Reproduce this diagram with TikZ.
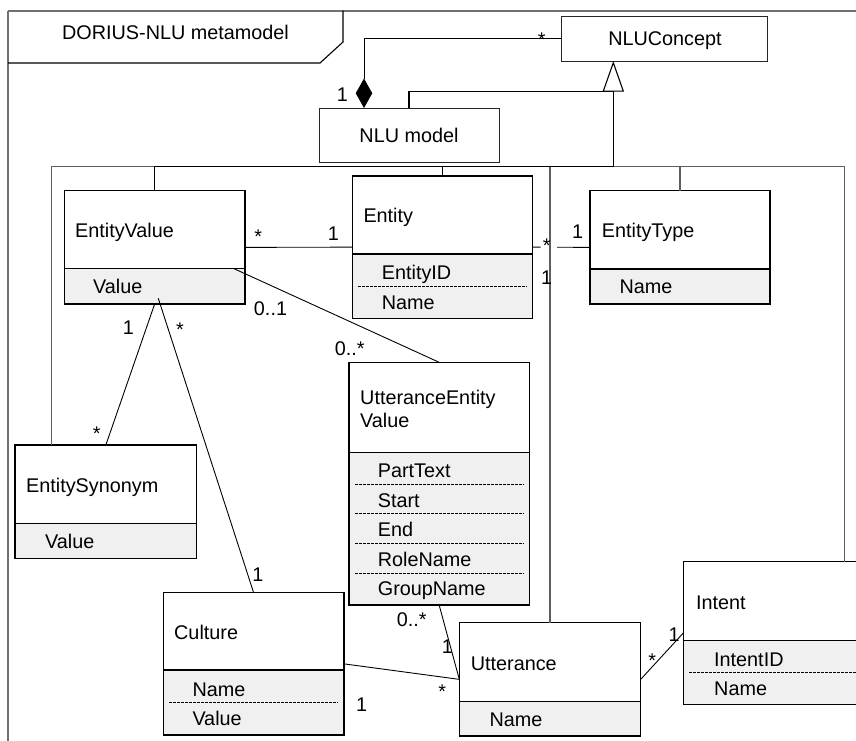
\documentclass[tikz,border=0pt]{standalone}
\usepackage{fontspec}
\setmainfont{Liberation Sans}
\usetikzlibrary{arrows.meta,calc}

\definecolor{attrbg}{HTML}{F0F0F0}
\definecolor{framegray}{HTML}{707070}
\definecolor{linkgray}{HTML}{5E5E5E}

\tikzset{
  lbl/.style={inner sep=0pt, anchor=base west, font=\fontsize{19.8}{23.3}\selectfont},
  clbl/.style={lbl, anchor=base},
  mult/.style={inner sep=0pt, anchor=base, font=\fontsize{19.8}{23.3}\selectfont},
  clsframe/.style={draw=black, line width=1.3pt, inner sep=0pt, outer sep=0pt, anchor=north west},
  plainbox/.style={draw=black!85, line width=1pt, inner sep=0pt, outer sep=0pt, anchor=north west},
  assoc/.style={draw=black, line width=0.9pt},
  attrdot/.style={draw=black, line width=1pt, dash pattern=on 2.6pt off 1.4pt},
  genline/.style={draw=black, line width=1.1pt},
  genbranch/.style={draw=linkgray, line width=1.2pt},
}

% class box: name, x1, y1, x2, y2, y of the attribute divider
\newcommand{\umlcls}[6]{%
  \fill[attrbg] (#2,#6) rectangle (#4,#5);
  \node[clsframe, minimum width={#4-#2}, minimum height={#5-#3}] (#1) at (#2,#3) {};
  \draw[line width=1.3pt] (#2,#6) -- (#4,#6);
}
% dotted separator between attributes: x1, x2, y
\newcommand{\attrsep}[3]{\draw[attrdot] (#1,#3) -- (#2,#3);}

\begin{document}
\begin{tikzpicture}[x=1pt, y=-1pt]
  \useasboundingbox (0,0) rectangle (856,740);
  \clip (0,0) rectangle (856,740);

  % package frame and its name tab
  \draw[framegray, line width=1.6pt] (8,10.7) -- (860,10.7);
  \draw[framegray, line width=2.6pt] (8,10.7) -- (8,745);
  \draw[black, line width=1.1pt] (8,63) -- (320,63) -- (343,42) -- (343,10.7);
  \node[clbl] (frametitle) at (175.5,39.3) {DORIUS-NLU metamodel};

  % top level concepts
  \node[plainbox, minimum width=206, minimum height=45] (nluc) at (561.7,16) {};
  \node[clbl] (nlucT) at (665,45.7) {NLUConcept};
  \node[plainbox, minimum width=180, minimum height=54.3] (nlum) at (319,108) {};
  \node[clbl] (nlumT) at (409,142.7) {NLU model};

  % classes
  \umlcls{ev}{64.3}{190.7}{245}{304}{268.3}
  \node[lbl] (evT) at (75,237.3) {EntityValue};
  \node[lbl] (evA) at (93,293.3) {Value};

  \umlcls{ent}{352.3}{176}{532.7}{318.3}{254}
  \node[lbl] (entT) at (363.3,222.7) {Entity};
  \node[lbl] (entA) at (381.7,279.3) {EntityID};
  \attrsep{358}{527.3}{286}
  \node[lbl] (entB) at (381.7,309.3) {Name};

  \umlcls{ety}{590}{190.7}{770}{304}{269}
  \node[lbl] (etyT) at (601.7,237.3) {EntityType};
  \node[lbl] (etyA) at (619.3,293.3) {Name};

  \umlcls{uev}{349}{362.3}{529.3}{605}{452.7}
  \node[lbl] (uevT) at (360,404) {UtteranceEntity};
  \node[lbl] (uevT2) at (360,427.3) {Value};
  \node[lbl] (uevA) at (377.7,477.3) {PartText};
  \attrsep{355}{523.5}{484}
  \node[lbl] (uevB) at (377.7,507.3) {Start};
  \attrsep{355}{523.5}{513.3}
  \node[lbl] (uevC) at (377.7,536) {End};
  \attrsep{355}{523.5}{543.3}
  \node[lbl] (uevD) at (377.7,566) {RoleName};
  \attrsep{355}{523.5}{573.3}
  \node[lbl] (uevE) at (377.7,595) {GroupName};

  \umlcls{es}{15}{445}{196.7}{558.3}{523.3}
  \node[lbl] (esT) at (26,492.7) {EntitySynonym};
  \node[lbl] (esA) at (45,548.3) {Value};

  \umlcls{cu}{163.3}{592.7}{344}{735}{670}
  \node[lbl] (cuT) at (174,639.3) {Culture};
  \node[lbl] (cuA) at (192.3,696.7) {Name};
  \attrsep{169}{338.3}{702.7}
  \node[lbl] (cuB) at (192.3,725) {Value};

  \umlcls{utt}{459.3}{622.7}{640.7}{736}{701.7}
  \node[lbl] (uttT) at (470.7,670) {Utterance};
  \node[lbl] (uttA) at (489.3,726.7) {Name};

  \umlcls{int}{683.3}{561.7}{880}{704.3}{640.7}
  \node[lbl] (intT) at (696,609.3) {Intent};
  \node[lbl] (intA) at (714,666.7) {IntentID};
  \attrsep{689.3}{870}{672.3}
  \node[lbl] (intB) at (714,695.7) {Name};

  % composition: NLU model owns the concepts
  \coordinate (cmpx) at (364,0);
  \draw[assoc, -{Diamond[length=29.5pt,width=16.5pt]}] (nluc.west) -| (nlum.north -| cmpx);
  \node[mult] (m1) at (342.3,101.7) {1};
  \node[mult] (m2) at (541.7,46) {*};

  % generalisation tree towards NLUConcept
  \coordinate (genx) at (613.3,0);
  \coordinate (hub) at (613.3,166.7);
  \coordinate (genbase) at (613.3,91.7);
  \coordinate (esx) at (51.7,0);
  \coordinate (intx) at (844.3,0);
  \draw[genline] (nlum.north) |- (genbase);
  \draw[genbranch] (hub) -| (es.north -| esx);
  \draw[genbranch] (hub) -| (utt.north);
  \draw[genbranch] (hub) -| (ety.north);
  \draw[genbranch] (hub) -| (int.north -| intx);
  \draw[genline] (hub) -| (ent.north);
  \draw[genline] (hub) -| (ev.north);
  \draw[genline, -{Triangle[open,length=30.7pt,width=21.3pt,fill=white]}] (hub) -- (nluc.south -| genx);

  % associations
  \draw[assoc] (ev.east) -- (ent.west);
  \node[mult] (m3) at (258.3,243.6) {*};
  \node[mult] (m4) at (333.3,240) {1};

  \draw[assoc, dash pattern=on 8pt off 16.3pt on 60pt] (ent.east) -- (ety.west);
  \node[mult] (m5) at (546.7,252) {*};
  \node[mult] (m6) at (577.7,238.3) {1};
  \node[mult] (m7) at (546.7,284) {1};

  \draw[assoc] ($(ev.east)+(-11.7,21)$) -- (uev.north);
  \node[mult] (m8) at (270.5,315) {0..1};
  \node[mult] (m9) at (349.7,355) {0..*};

  \draw[assoc] (ev.south) -- (es.north);
  \node[mult] (m10) at (128.3,334.3) {1};
  \node[mult] (m11) at (96.7,440) {*};

  \draw[assoc] ($(ev.south)+(3.6,-5.7)$) -- (cu.north);
  \node[mult] (m12) at (180,336) {*};
  \node[mult] (m13) at (258,581.7) {1};

  \draw[assoc] (uev.south) -- (utt.west);
  \node[mult] (m14) at (411.7,626.7) {0..*};
  \node[mult] (m15) at (447.3,653.3) {1};

  \draw[assoc] (cu.east) -- (utt.west);
  \node[mult] (m16) at (361.7,711.7) {1};
  \node[mult] (m17) at (442.2,698) {*};

  \draw[assoc] (utt.east) -- (int.west);
  \node[mult] (m18) at (652.3,667.6) {*};
  \node[mult] (m19) at (674,641.7) {1};
\end{tikzpicture}
\end{document}
